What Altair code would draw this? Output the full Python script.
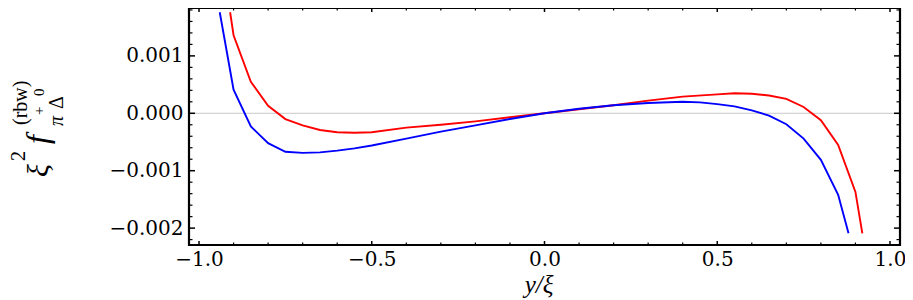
import altair as alt
import pandas as pd

# ---- data ----
red_x = [-0.91, -0.90, -0.85, -0.80, -0.75, -0.70, -0.65, -0.60, -0.55, -0.50, -0.40, -0.30,
         -0.20, -0.10, 0.0, 0.10, 0.20, 0.30, 0.40, 0.50, 0.55, 0.60, 0.65, 0.70, 0.75, 0.80,
         0.85, 0.90, 0.92]
red_y = [0.00176, 0.00136, 0.00055, 0.00013, -0.00010, -0.00021, -0.00029, -0.00033, -0.00034,
         -0.00033, -0.00025, -0.00020, -0.00014, -0.00007, 0.0, 0.00007, 0.00014, 0.00022,
         0.00029, 0.00033, 0.00035, 0.00034, 0.00031, 0.00025, 0.00011, -0.00012, -0.00055,
         -0.00137, -0.00209]

blue_x = [-0.94, -0.90, -0.85, -0.80, -0.75, -0.70, -0.65, -0.60, -0.55, -0.50, -0.40, -0.30,
          -0.20, -0.10, 0.0, 0.10, 0.20, 0.30, 0.40, 0.45, 0.50, 0.55, 0.60, 0.65, 0.70, 0.75,
          0.80, 0.85, 0.88]
blue_y = [0.00176, 0.00041, -0.00023, -0.00052, -0.00067, -0.00069, -0.00068, -0.00065, -0.00061,
          -0.00056, -0.00044, -0.00032, -0.00021, -0.00010, 0.0, 0.00008, 0.00014, 0.00018,
          0.00020, 0.00019, 0.00016, 0.00012, 0.00005, -0.00004, -0.00019, -0.00044, -0.00081,
          -0.00142, -0.00209]

x_major = [-1.0, -0.5, 0.0, 0.5, 1.0]
x_minor = [-0.9, -0.8, -0.7, -0.6, -0.4, -0.3, -0.2, -0.1, 0.1, 0.2, 0.3, 0.4, 0.6, 0.7, 0.8, 0.9]
y_major = [-0.002, -0.001, 0.0, 0.001]
y_minor = [-0.0022, -0.0018, -0.0016, -0.0014, -0.0012, -0.0008, -0.0006, -0.0004, -0.0002,
           0.0002, 0.0004, 0.0006, 0.0008, 0.0012, 0.0014, 0.0016, 0.0018]

x_domain = [-1.029, 1.029]
y_domain = [-0.002294, 0.001834]

W, H = 711, 237
FONT = "Liberation Serif"
TICKFONT = "DejaVu Serif"

df = pd.concat([
    pd.DataFrame({"x": red_x, "y": red_y, "s": "red"}),
    pd.DataFrame({"x": blue_x, "y": blue_y, "s": "blue"}),
])

xs = alt.Scale(domain=x_domain, nice=False, zero=False)
ys = alt.Scale(domain=y_domain, nice=False, zero=False)

xaxis = alt.Axis(values=x_major, format=".1f", ticks=False, tickSize=0, domain=False, grid=False,
                 labelFont=TICKFONT, labelFontSize=20, labelColor="black", labelPadding=4,
                 title=None)
yaxis = alt.Axis(values=y_major, format=".3f", ticks=False, tickSize=0, domain=False, grid=False,
                 labelFont=TICKFONT, labelFontSize=20, labelColor="black", labelPadding=6,
                 title=None)


def X(field):
    return alt.X(field, type="quantitative", scale=xs, axis=xaxis)


def Y(field):
    return alt.Y(field, type="quantitative", scale=ys, axis=yaxis)


zero_line = alt.Chart(pd.DataFrame({"z": [0.0]})).mark_rule(color="#c8c8c8", strokeWidth=1).encode(
    y=Y("z"), x=alt.value(0), x2=alt.value(W))

lines = alt.Chart(df).mark_line(strokeWidth=1.9, clip=True).encode(
    x=X("x"),
    y=Y("y"),
    color=alt.Color("s:N", scale=alt.Scale(domain=["red", "blue"], range=["#ff0000", "#0000ff"]),
                    legend=None),
    detail="s:N",
)

frame = alt.Chart(alt.Data(values=[{}])).mark_rect(
    fill=None, fillOpacity=0, stroke="black", strokeWidth=2.2).encode(
    x=alt.value(0), x2=alt.value(W), y=alt.value(0), y2=alt.value(H))


def yticks(vals, length, width):
    d = pd.DataFrame({"v": vals})
    left = alt.Chart(d).mark_rule(color="black", strokeWidth=width).encode(
        y=Y("v"), x=alt.value(0), x2=alt.value(length))
    right = alt.Chart(d).mark_rule(color="black", strokeWidth=width).encode(
        y=Y("v"), x=alt.value(W), x2=alt.value(W - length))
    return [left, right]


def xticks(vals, length, width):
    d = pd.DataFrame({"v": vals})
    top = alt.Chart(d).mark_rule(color="black", strokeWidth=width).encode(
        x=X("v"), y=alt.value(0), y2=alt.value(length))
    bottom = alt.Chart(d).mark_rule(color="black", strokeWidth=width).encode(
        x=X("v"), y=alt.value(H), y2=alt.value(H - length))
    return [top, bottom]


def label(text, x, y, size, italic=False, angle=270, align="left"):
    return alt.Chart(alt.Data(values=[{}])).mark_text(
        text=text, font=FONT, fontSize=size, fontStyle="italic" if italic else "normal",
        angle=angle, align=align, baseline="alphabetic", color="black",
    ).encode(x=alt.value(x), y=alt.value(y))


# offsets: plot origin is at page (189, 8)
OX, OY = 189, 8
ylab = [
    label("ξ", 48 - OX, 177 - OY, 30, italic=True),
    label("2", 25 - OX, 161 - OY, 20),
    label("f", 48 - OX, 144 - OY, 32, italic=True),
    label("(rbw)", 27 - OX, 125 - OY, 20),
    label("π", 63 - OX, 126 - OY, 20, italic=True),
    label("+", 44 - OX, 115 - OY, 15),
    label("Δ", 63 - OX, 109 - OY, 20),
    label("0", 44 - OX, 96 - OY, 15),
]
xlab = label("y/ξ", 539 - OX, 293 - OY, 25, italic=True, angle=0, align="center")

chart = alt.layer(
    zero_line, lines,
    *yticks(y_major, 6, 1.5), *yticks(y_minor, 3.5, 1.2),
    *xticks(x_major, 4, 1.5), *xticks(x_minor, 2.5, 1.2),
    frame, *ylab, xlab,
).properties(
    width=W, height=H,
    background="white",
    autosize=alt.AutoSizeParams(type="none"),
    padding={"left": 181, "top": 0, "right": 5, "bottom": 54},
).configure_view(stroke=None)

chart.save("out.html", embed_options={"renderer": "svg", "actions": False})
